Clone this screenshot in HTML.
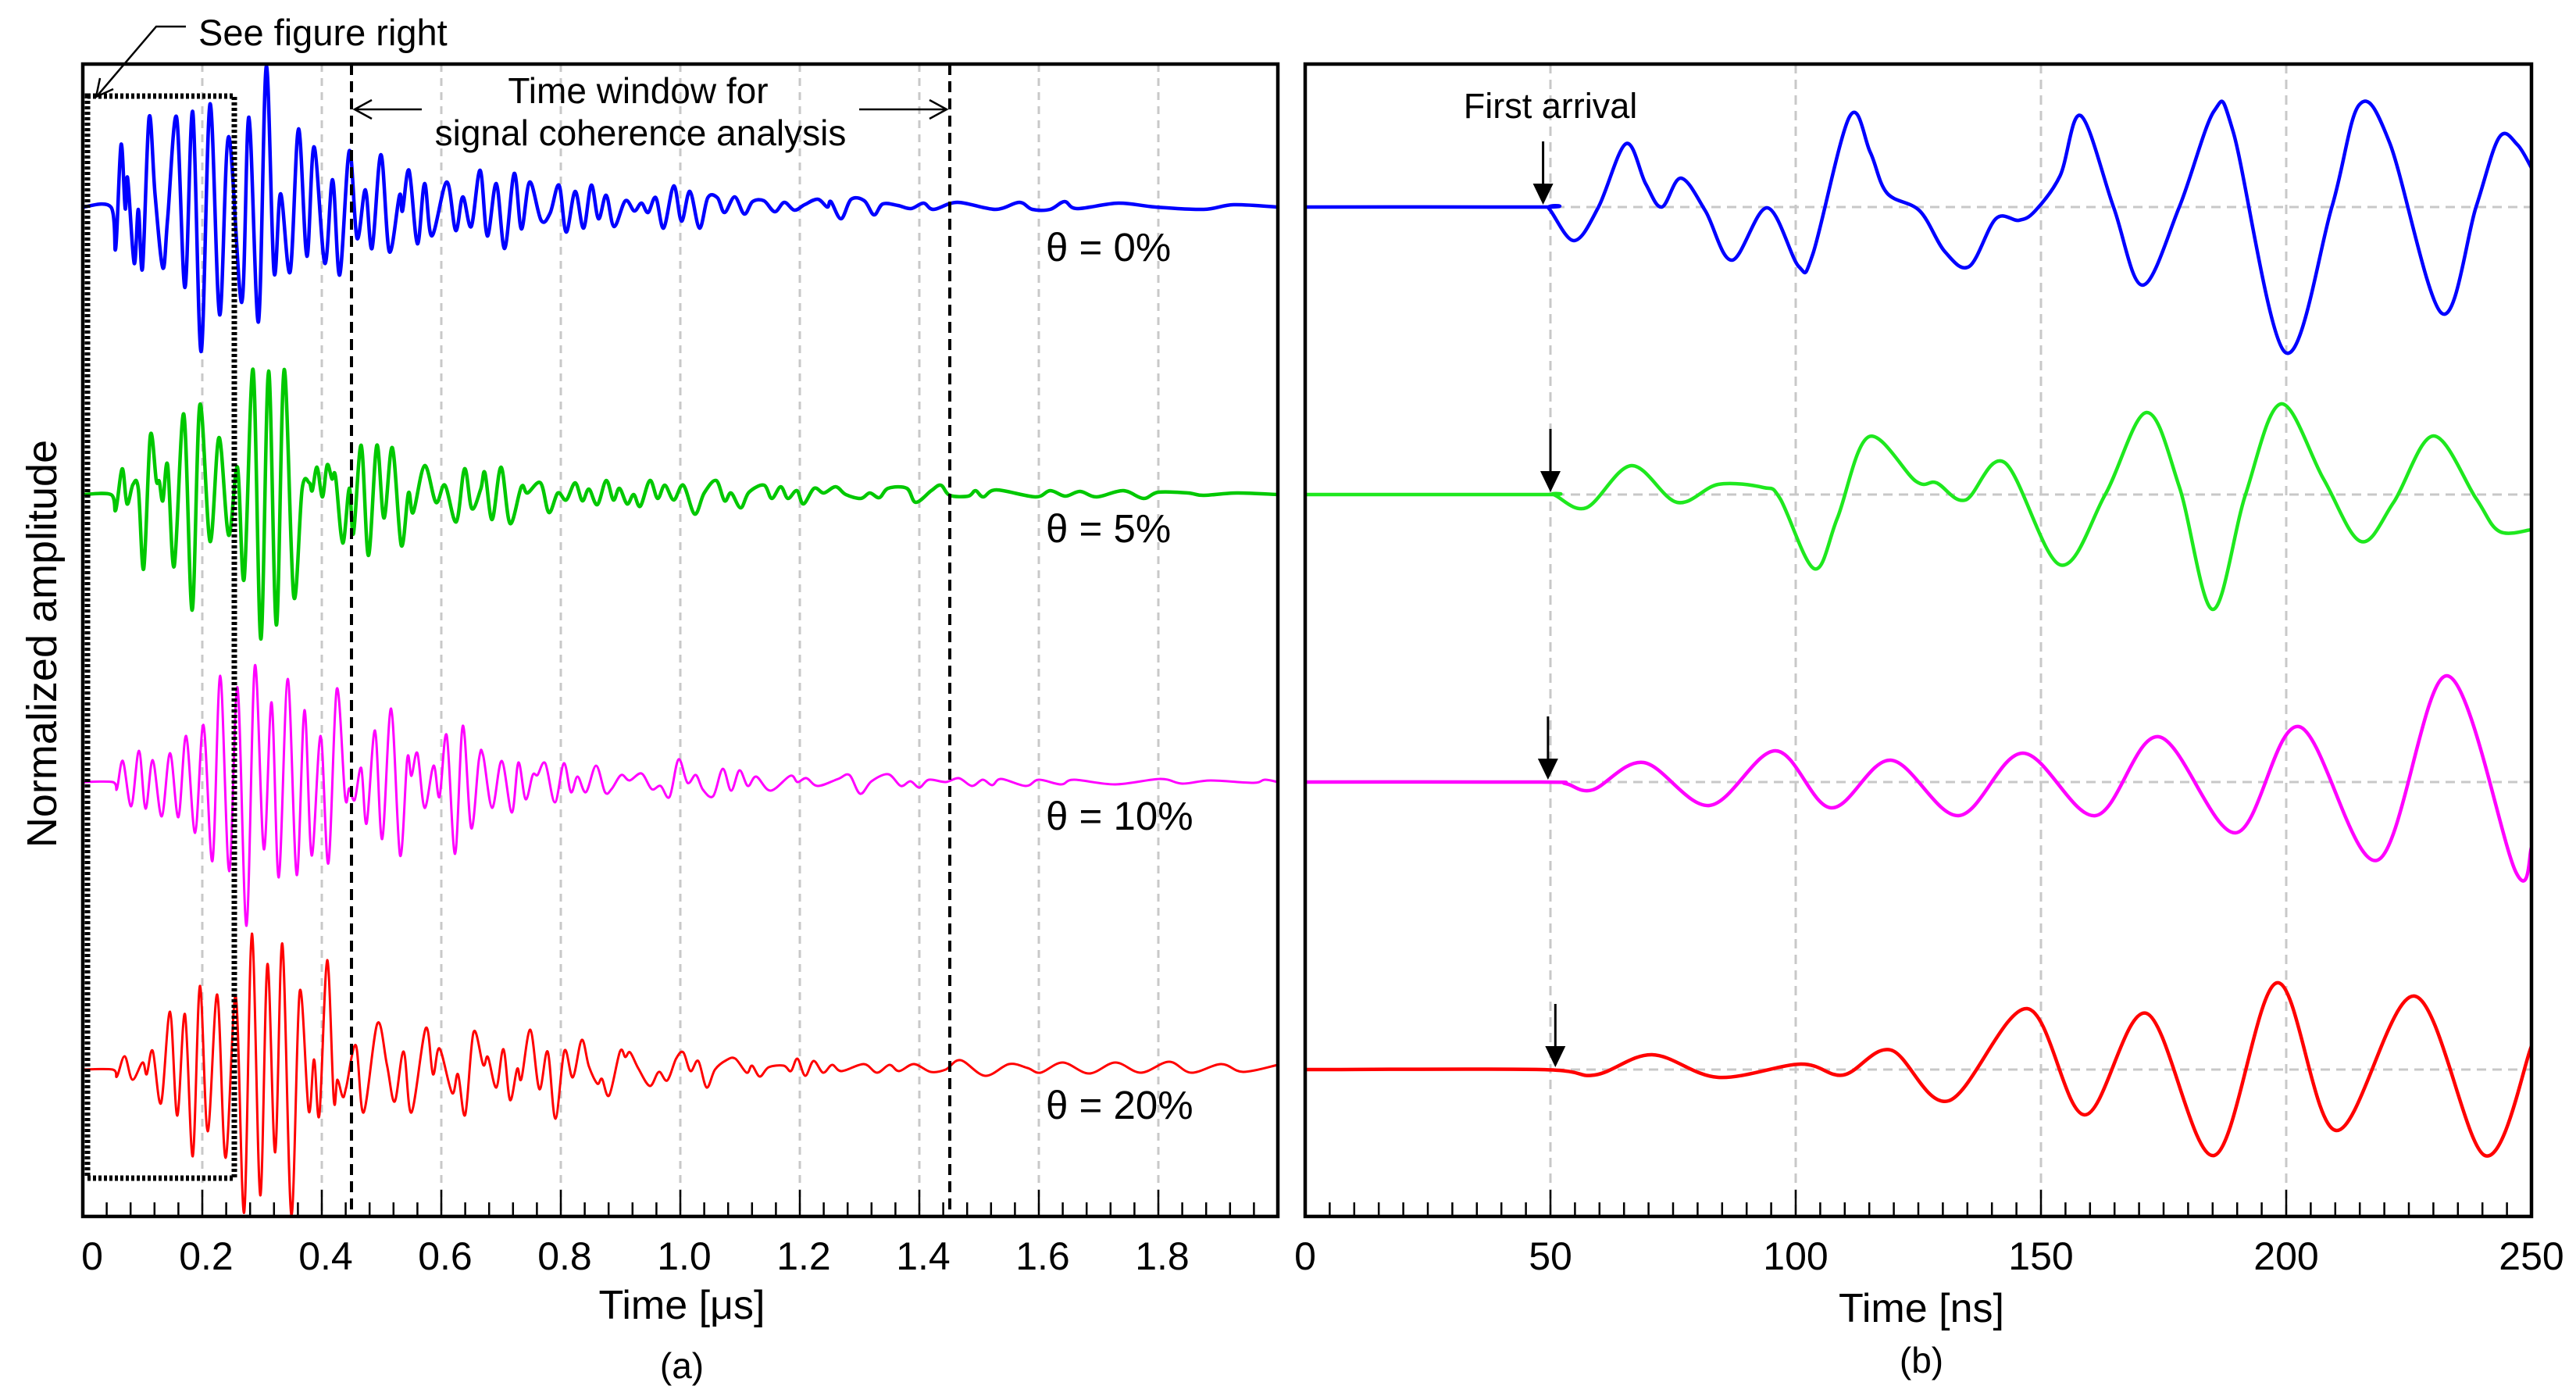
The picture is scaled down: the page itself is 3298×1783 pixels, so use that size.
<!DOCTYPE html>
<html><head><meta charset="utf-8">
<style>
html,body{margin:0;padding:0;background:#fff;}
svg{display:block;font-family:"Liberation Sans",sans-serif;}
</style></head>
<body>
<svg id="fig" width="3298" height="1783" viewBox="0 0 3298 1783" xmlns="http://www.w3.org/2000/svg">
<rect x="0" y="0" width="3298" height="1783" fill="#fff"/>
<g id="gridA"></g>
<g id="gridB"></g>
<g id="tracesA"></g>
<g id="tracesB"></g>
<g id="axesA"></g>
<g id="axesB"></g>

<rect x="112" y="123" width="188" height="1385" fill="none" stroke="#000" stroke-width="7" stroke-dasharray="4 3"/>
<line x1="450" y1="82" x2="450" y2="1555" stroke="#000" stroke-width="4" stroke-dasharray="14 8"/>
<line x1="1216" y1="82" x2="1216" y2="1555" stroke="#000" stroke-width="4" stroke-dasharray="14 8"/>
<text x="254" y="58" font-size="47">See figure right</text>
<polyline points="238,34 200,34 125,122" fill="none" stroke="#000" stroke-width="2.5"/>
<polyline points="128,100 123,124 145,114" fill="none" stroke="#000" stroke-width="2.5"/>
<text x="817" y="132" font-size="46" text-anchor="middle">Time window for</text>
<text x="820" y="186" font-size="46" text-anchor="middle">signal coherence analysis</text>
<line x1="454" y1="140" x2="540" y2="140" stroke="#000" stroke-width="2.5"/>
<polyline points="476,128 454,140 476,152" fill="none" stroke="#000" stroke-width="2.5"/>
<line x1="1100" y1="140" x2="1212" y2="140" stroke="#000" stroke-width="2.5"/>
<polyline points="1190,128 1212,140 1190,152" fill="none" stroke="#000" stroke-width="2.5"/>
<text x="1339" y="334" font-size="51">θ = 0%</text>
<text x="1339" y="694" font-size="51">θ = 5%</text>
<text x="1339" y="1062" font-size="51">θ = 10%</text>
<text x="1339" y="1432" font-size="51">θ = 20%</text>
<text transform="translate(72,824) rotate(-90)" font-size="54" text-anchor="middle">Normalized amplitude</text>
<text x="873" y="1688" font-size="52" text-anchor="middle">Time [μs]</text>
<text x="873" y="1764" font-size="46" text-anchor="middle">(a)</text>
<text x="2460" y="1692" font-size="52" text-anchor="middle">Time [ns]</text>
<text x="2460" y="1757" font-size="46" text-anchor="middle">(b)</text>
<text x="1985" y="151" font-size="45" text-anchor="middle">First arrival</text>
<g id="arrows"></g>
</svg>
<script>
const leftTicks = ["0","0.2","0.4","0.6","0.8","1.0","1.2","1.4","1.6","1.8"];
const leftTickValues = [0,0.2,0.4,0.6,0.8,1.0,1.2,1.4,1.6,1.8];
const rightTicks = ["0","50","100","150","200","250"];
const rightTickValues = [0,50,100,150,200,250];

const blueLeft = [[0,0],[0.047,0],[0.055,-0.53],[0.064,0.8],[0.071,-0.02],[0.075,0.37],[0.086,-0.72],[0.093,-0.03],[0.100,-0.78],[0.111,1.15],[0.121,0.15],[0.134,-0.78],[0.142,-0.15],[0.157,1.15],[0.171,-1.03],[0.184,1.22],[0.198,-1.85],[0.213,1.32],[0.229,-1.38],[0.244,0.9],[0.266,-1.22],[0.278,1.15],[0.294,-1.47],[0.307,1.8],[0.320,-0.83],[0.331,0.17],[0.347,-0.83],[0.361,1.0],[0.375,-0.63],[0.387,0.77],[0.405,-0.72],[0.418,0.35],[0.430,-0.87],[0.446,0.72],[0.459,-0.4],[0.473,0.22],[0.484,-0.53],[0.499,0.67],[0.513,-0.57],[0.530,0.15],[0.535,-0.05],[0.546,0.47],[0.560,-0.47],[0.572,0.3],[0.584,-0.37],[0.609,0.32],[0.624,-0.3],[0.636,0.13],[0.650,-0.25],[0.665,0.47],[0.677,-0.37],[0.692,0.3],[0.706,-0.53],[0.722,0.43],[0.734,-0.28],[0.748,0.32],[0.767,-0.17],[0.782,-0.08],[0.797,0.28],[0.809,-0.32],[0.824,0.2],[0.838,-0.27],[0.851,0.28],[0.863,-0.15],[0.876,0.15],[0.889,-0.25],[0.908,0.08],[0.923,-0.05],[0.935,0.05],[0.946,-0.07],[0.959,0.12],[0.972,-0.27],[0.989,0.27],[1.002,-0.18],[1.016,0.2],[1.032,-0.27],[1.046,0.12],[1.062,0.12],[1.074,-0.07],[1.091,0.13],[1.107,-0.09],[1.121,0.07],[1.140,0.08],[1.158,-0.06],[1.174,0.06],[1.191,-0.04],[1.208,0.03],[1.230,0.1],[1.246,0],[1.252,0.07],[1.269,-0.15],[1.286,0.1],[1.308,0.08],[1.324,-0.1],[1.339,0.04],[1.364,0.02],[1.386,-0.02],[1.407,0.05],[1.424,-0.03],[1.464,0.06],[1.527,-0.03],[1.567,0.06],[1.589,-0.03],[1.619,-0.03],[1.643,0.07],[1.664,-0.02],[1.733,0.05],[1.795,0],[1.876,-0.03],[1.926,0.03],[2.0,0]];

const greenLeft = [[0,0],[0.047,0],[0.055,-0.2],[0.066,0.33],[0.074,-0.12],[0.084,0.13],[0.093,0.07],[0.102,-0.95],[0.113,0.75],[0.123,0.18],[0.128,0.17],[0.134,-0.08],[0.142,0.38],[0.153,-0.92],[0.169,1.03],[0.183,-1.48],[0.196,1.15],[0.213,-0.6],[0.228,0.73],[0.244,-0.52],[0.259,0.35],[0.270,-1.08],[0.285,1.6],[0.298,-1.85],[0.311,1.58],[0.324,-1.67],[0.337,1.6],[0.353,-1.3],[0.367,0.07],[0.379,0.15],[0.384,0.05],[0.392,0.35],[0.401,-0.03],[0.409,0.38],[0.417,0.2],[0.423,0.23],[0.435,-0.62],[0.446,0.08],[0.453,-0.5],[0.466,0.63],[0.478,-0.78],[0.492,0.63],[0.504,-0.3],[0.518,0.6],[0.533,-0.65],[0.545,0.02],[0.553,-0.23],[0.572,0.37],[0.591,-0.1],[0.606,0.12],[0.625,-0.35],[0.639,0.33],[0.651,-0.18],[0.666,0.07],[0.673,0.28],[0.685,-0.32],[0.700,0.35],[0.715,-0.37],[0.734,0.1],[0.744,0.02],[0.766,0.15],[0.780,-0.23],[0.795,0.02],[0.809,-0.07],[0.824,0.15],[0.836,-0.08],[0.847,0.07],[0.861,-0.13],[0.876,0.18],[0.888,-0.07],[0.898,0.08],[0.911,-0.12],[0.922,0],[0.933,-0.15],[0.949,0.18],[0.962,-0.05],[0.974,0.12],[0.989,-0.07],[1.005,0.12],[1.024,-0.25],[1.040,0.02],[1.060,0.18],[1.074,-0.08],[1.085,0.02],[1.101,-0.17],[1.115,0.03],[1.140,0.12],[1.153,-0.05],[1.168,0.1],[1.180,-0.05],[1.195,0.05],[1.206,-0.12],[1.224,0.08],[1.240,0.02],[1.260,0.1],[1.277,0],[1.302,-0.05],[1.317,0.02],[1.333,-0.04],[1.348,0.08],[1.379,0.08],[1.394,-0.1],[1.420,0.05],[1.436,0.12],[1.451,-0.01],[1.482,-0.02],[1.494,0.05],[1.507,-0.03],[1.529,0.06],[1.594,-0.03],[1.619,0.05],[1.644,-0.02],[1.669,0.04],[1.697,-0.03],[1.741,0.05],[1.775,-0.05],[1.800,0.03],[1.850,0.02],[1.875,-0.01],[1.931,0.02],[2.0,0]];

const magentaLeft = [[0,0],[0.050,0],[0.057,-0.09],[0.067,0.27],[0.081,-0.31],[0.094,0.4],[0.105,-0.34],[0.117,0.28],[0.132,-0.44],[0.146,0.37],[0.160,-0.45],[0.173,0.59],[0.188,-0.65],[0.202,0.73],[0.217,-1.01],[0.230,1.36],[0.245,-1.14],[0.259,1.21],[0.274,-1.84],[0.288,1.49],[0.303,-0.86],[0.316,1.02],[0.328,-1.22],[0.343,1.32],[0.358,-1.19],[0.371,0.92],[0.383,-0.94],[0.398,0.59],[0.411,-1.04],[0.425,1.19],[0.439,-0.19],[0.446,-0.08],[0.455,-0.23],[0.466,0.18],[0.475,-0.53],[0.489,0.66],[0.501,-0.73],[0.516,0.94],[0.531,-0.94],[0.543,0.3],[0.550,0.08],[0.560,0.37],[0.572,-0.33],[0.587,0.21],[0.597,-0.19],[0.609,0.6],[0.623,-0.92],[0.636,0.72],[0.650,-0.59],[0.663,0.29],[0.670,0.34],[0.685,-0.33],[0.701,0.27],[0.718,-0.39],[0.729,0.25],[0.741,-0.22],[0.753,0.09],[0.761,0.09],[0.774,0.24],[0.790,-0.26],[0.805,0.24],[0.817,-0.13],[0.828,0.07],[0.842,-0.13],[0.859,0.21],[0.874,-0.13],[0.885,-0.09],[0.901,0.09],[0.915,0.02],[0.935,0.11],[0.952,-0.09],[0.967,-0.05],[0.982,-0.19],[0.997,0.29],[1.012,-0.01],[1.026,0.09],[1.038,-0.1],[1.055,-0.18],[1.071,0.17],[1.085,-0.11],[1.099,0.15],[1.113,-0.05],[1.127,0.07],[1.151,-0.11],[1.184,0.08],[1.196,0],[1.211,0.05],[1.230,-0.05],[1.264,0.04],[1.283,0.09],[1.301,-0.15],[1.320,0.01],[1.348,0.1],[1.369,-0.05],[1.385,0.01],[1.400,-0.07],[1.416,0.03],[1.444,0],[1.466,0.05],[1.488,-0.05],[1.506,0.03],[1.522,-0.04],[1.537,0.04],[1.578,-0.05],[1.600,0.03],[1.637,-0.03],[1.659,0.03],[1.728,-0.03],[1.803,0.04],[1.840,-0.02],[1.887,0.02],[1.959,-0.01],[1.978,0.03],[2.0,0]];

const redLeft = [[0,0],[0.050,0],[0.057,-0.09],[0.070,0.17],[0.083,-0.13],[0.100,0.09],[0.107,-0.06],[0.117,0.24],[0.131,-0.43],[0.146,0.74],[0.158,-0.59],[0.171,0.71],[0.184,-1.11],[0.196,1.07],[0.209,-0.79],[0.225,0.96],[0.239,-1.13],[0.256,0.94],[0.270,-1.83],[0.283,1.74],[0.297,-1.61],[0.309,1.35],[0.322,-1.06],[0.334,1.61],[0.349,-1.86],[0.363,1.0],[0.378,-0.53],[0.387,0.13],[0.396,-0.58],[0.409,1.4],[0.420,-0.38],[0.426,-0.13],[0.435,-0.35],[0.441,-0.22],[0.457,0.31],[0.470,-0.55],[0.493,0.59],[0.509,0.06],[0.522,-0.41],[0.537,0.23],[0.550,-0.55],[0.574,0.53],[0.586,-0.06],[0.597,0.27],[0.618,-0.3],[0.628,-0.06],[0.640,-0.58],[0.654,0.48],[0.670,0.06],[0.678,0.16],[0.692,-0.23],[0.704,0.26],[0.715,-0.39],[0.727,0.01],[0.734,-0.12],[0.749,0.51],[0.764,-0.25],[0.778,0.23],[0.791,-0.63],[0.806,0.24],[0.820,-0.1],[0.835,0.38],[0.847,0.04],[0.861,-0.18],[0.869,-0.12],[0.881,-0.33],[0.899,0.23],[0.908,0.16],[0.916,0.22],[0.930,0.01],[0.949,-0.21],[0.964,-0.03],[0.978,-0.14],[0.993,0.14],[1.005,0.22],[1.017,-0.02],[1.030,0.11],[1.044,-0.23],[1.058,0.0],[1.077,0.12],[1.092,0.14],[1.111,-0.04],[1.120,0.05],[1.133,-0.09],[1.148,0.03],[1.173,0.05],[1.185,-0.02],[1.196,0.14],[1.209,-0.08],[1.223,0.11],[1.239,-0.04],[1.254,0.06],[1.270,-0.02],[1.307,0.07],[1.329,-0.04],[1.350,0.06],[1.366,-0.02],[1.391,0.07],[1.419,-0.03],[1.444,0],[1.469,0.12],[1.510,-0.08],[1.550,0.07],[1.581,0.02],[1.603,-0.04],[1.640,0.09],[1.684,-0.05],[1.728,0.09],[1.771,-0.04],[1.818,0.1],[1.855,-0.04],[1.905,0.07],[1.942,-0.03],[2.0,0.06]];

const blueRight = [[0,0],[48,0],[49.7,-0.02],[54.8,-0.43],[59.8,0],[65.4,0.81],[69.4,0.3],[72.7,0],[76.6,0.37],[81.6,-0.05],[87.0,-0.68],[94.2,-0.01],[100.6,-0.76],[103.5,-0.6],[111.0,1.16],[115.2,0.7],[118.6,0.18],[125.3,-0.05],[130.4,-0.57],[135.4,-0.76],[140.8,-0.15],[145.5,-0.17],[148.8,-0.05],[153.9,0.4],[158.1,1.17],[164.8,0],[170.7,-1.0],[178.2,0],[185.3,1.23],[189.2,0.96],[199.8,-1.86],[209.3,0],[214.9,1.31],[221.1,0.82],[231.7,-1.36],[238.7,0],[243.4,0.89],[247.1,0.8],[250,0.5]];
const greenRight = [[0,0],[48,0],[50.6,0],[57.3,-0.17],[66.5,0.37],[75.8,-0.1],[84.2,0.13],[93.4,0.09],[96.8,-0.05],[103.8,-0.95],[108.5,-0.3],[114.9,0.74],[124.5,0.17],[128.7,0.15],[134.6,-0.07],[142.6,0.41],[153.9,-0.9],[163.1,0],[171.5,1.05],[178.2,0.1],[185,-1.47],[191.7,0],[198.9,1.16],[207.6,0.2],[215.2,-0.6],[221.9,-0.1],[230.0,0.75],[238.7,-0.05],[243.4,-0.47],[250,-0.45]];
const magentaRight = [[0,0],[48,0],[53.1,-0.02],[58.6,-0.1],[69.0,0.25],[82.4,-0.3],[95.9,0.4],[107.2,-0.33],[119.4,0.28],[133.2,-0.43],[146.3,0.37],[161.1,-0.43],[174.0,0.58],[189.7,-0.65],[202.6,0.71],[218.6,-1.0],[232.8,1.36],[246.8,-1.15],[250,-0.84]];
const redRight = [[0,0],[48,0],[59,-0.07],[70.7,0.19],[84.2,-0.1],[101,0.07],[109.7,-0.07],[119.4,0.25],[131.2,-0.4],[147.2,0.78],[158.9,-0.58],[171.5,0.72],[185.3,-1.1],[198.1,1.11],[210.2,-0.78],[226.2,0.94],[240.5,-1.1],[250,0.3]];
const arrivalTimes = [48.5, 50, 49.5, 51];

const NS = "http://www.w3.org/2000/svg";
const A = {x0:106, x1:1636, y0:82, y1:1557, tmax:2.0};
const B = {x0:1671, x1:3241, y0:82, y1:1557, tmax:250};
const baselines = [265, 633, 1001, 1369];
const ampScale = 100;
const xA = t => A.x0 + t / A.tmax * (A.x1 - A.x0);
const xB = t => B.x0 + t / B.tmax * (B.x1 - B.x0);
const yAmp = (base, a) => base - a * ampScale;

function mk(tag, attrs, parent){ const e=document.createElementNS(NS,tag); for(const k in attrs) e.setAttribute(k,attrs[k]); parent.appendChild(e); return e; }

function smoothPath(pts){
  let d = "M" + pts[0][0].toFixed(1) + "," + pts[0][1].toFixed(1);
  for(let i=0;i<pts.length-1;i++){
    const p0=pts[Math.max(0,i-1)], p1=pts[i], p2=pts[i+1], p3=pts[Math.min(pts.length-1,i+2)];
    const c1x=p1[0]+(p2[0]-p0[0])/6, c1y=p1[1]+(p2[1]-p0[1])/6;
    const c2x=p2[0]-(p3[0]-p1[0])/6, c2y=p2[1]-(p3[1]-p1[1])/6;
    d += " C"+c1x.toFixed(1)+","+c1y.toFixed(1)+" "+c2x.toFixed(1)+","+c2y.toFixed(1)+" "+p2[0].toFixed(1)+","+p2[1].toFixed(1);
  }
  return d;
}

const gA=document.getElementById('gridA'), gB=document.getElementById('gridB');
const tA=document.getElementById('tracesA'), tB=document.getElementById('tracesB');
const axA=document.getElementById('axesA'), axB=document.getElementById('axesB');

for(let i=1;i<leftTickValues.length;i++){
  const l=mk('line',{x1:xA(leftTickValues[i]),x2:xA(leftTickValues[i]),y1:A.y0,y2:A.y1,stroke:'#c8c8c8','stroke-width':3,'stroke-dasharray':'10 8'},gA);
  
  
}
for(let i=1;i<rightTickValues.length-1;i++){
  const l=mk('line',{x1:xB(rightTickValues[i]),x2:xB(rightTickValues[i]),y1:B.y0,y2:B.y1,stroke:'#c8c8c8','stroke-width':3,'stroke-dasharray':'12 8'},gB);
  
  
}
baselines.forEach(b=>{
  const l=mk('line',{x1:B.x0,x2:B.x1,y1:b,y2:b,stroke:'#c8c8c8','stroke-width':3,'stroke-dasharray':'12 8'},gB);
  
  
});

const leftSeries=[[blueLeft,'#0000ff',4.5,'trace-left-theta-0'],[greenLeft,'#00c800',4.5,'trace-left-theta-5'],[magentaLeft,'#ff00ff',3,'trace-left-theta-10'],[redLeft,'#ff0000',3,'trace-left-theta-20']];
leftSeries.forEach((s,i)=>{
  const pts=s[0].map(p=>[xA(p[0]),yAmp(baselines[i],p[1])]);
  const p=mk('path',{d:smoothPath(pts),fill:'none',stroke:s[1],'stroke-width':s[2],'stroke-linejoin':'round'},tA);
  
  
});
const rightSeries=[[blueRight,'#0000ff','trace-right-theta-0'],[greenRight,'#1ee81e','trace-right-theta-5'],[magentaRight,'#ff00ff','trace-right-theta-10'],[redRight,'#ff0000','trace-right-theta-20']];
rightSeries.forEach((s,i)=>{
  const pts=s[0].map(p=>[xB(p[0]),yAmp(baselines[i],p[1])]);
  const p=mk('path',{d:smoothPath(pts),fill:'none',stroke:s[1],'stroke-width':4.5,'stroke-linejoin':'round'},tB);
  
  
});

const arr=document.getElementById('arrows');
arrivalTimes.forEach((t,i)=>{
  const x=xB(t), b=baselines[i];
  const l=mk('line',{x1:x,x2:x,y1:b-84,y2:b-25,stroke:'#000','stroke-width':3},arr);
  
  
  const h=mk('polygon',{points:(x-13)+","+(b-30)+" "+(x+13)+","+(b-30)+" "+x+","+(b-3),fill:'#000'},arr);
  
  
});

function frame(g,P,name){
  const r=mk('rect',{x:P.x0,y:P.y0,width:P.x1-P.x0,height:P.y1-P.y0,fill:'none',stroke:'#000','stroke-width':4.5},g);
  
  
}
frame(axA,A,'left-plot-frame');
frame(axB,B,'right-plot-frame');
for(let k=1;k<50;k++){
  const t=k*0.04, major=(k%5===0);
  const l=mk('line',{x1:xA(t),x2:xA(t),y1:A.y1,y2:A.y1-(major?34:18),stroke:'#000','stroke-width':2.5},axA);
  
  
}
for(let k=1;k<50;k++){
  const t=k*5, major=(k%10===0);
  const l=mk('line',{x1:xB(t),x2:xB(t),y1:B.y1,y2:B.y1-(major?34:18),stroke:'#000','stroke-width':2.5},axB);
  
  
}
leftTicks.forEach((lab,i)=>{
  const x = i===0 ? xA(0)+12 : xA(leftTickValues[i])+5;
  const t=mk('text',{x:x,y:1625,'font-size':50,'text-anchor':'middle'},axA);
  t.textContent=lab;
  
  
});
rightTicks.forEach((lab,i)=>{
  const t=mk('text',{x:xB(rightTickValues[i]),y:1625,'font-size':50,'text-anchor':'middle'},axB);
  t.textContent=lab;
  
  
});
</script>
</body></html>
